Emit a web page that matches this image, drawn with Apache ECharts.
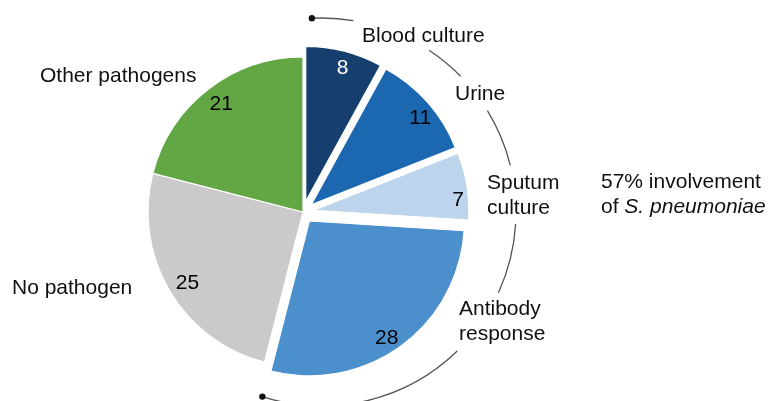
<!DOCTYPE html>
<html>
<head>
<meta charset="utf-8">
<script src="https://cdn.jsdelivr.net/npm/echarts@6/dist/echarts.min.js"></script>
<style>
  html, body { margin: 0; padding: 0; background: #fff; }
  #chart { width: 770px; height: 401px; }
</style>
</head>
<body>
<div id="chart"></div>
<script>
// 数据
const categories = ['Blood culture', 'Urine', 'Sputum\nculture', 'Antibody\nresponse', 'No pathogen', 'Other pathogens'];
const counts = [8, 11, 7, 28, 25, 21];
const pneumoniae = [true, true, true, true, false, false]; // 拉出的扇区
const note = '57% involvement\nof {i|S. pneumoniae}';

// 样式
const colors = ['#173f6e', '#1c68b0', '#bcd5ec', '#4b90cd', '#cbc9ca', '#62a744'];
const valueColors = ['#fff', '#000', '#000', '#000', '#000', '#000'];
const labelNudge = [[2, 2], [4, 6], [6, 12], [-5, 4], [5, 0], [4, 3]]; // 数值标签微调
const FONT = '"Liberation Sans", Arial, sans-serif';
const center = [303, 212];

const pieData = counts.map((v, i) => ({
    name: categories[i],
    value: v,
    selected: pneumoniae[i],
    itemStyle: { color: colors[i] },
    select: { itemStyle: { color: colors[i] } }
}));

const labelData = counts.map((v, i) => ({
    name: categories[i],
    value: v,
    selected: pneumoniae[i],
    label: { color: valueColors[i] }
}));

// 外部名称标签位置 (左, 垂直中心)
const namePos = [[362, 36], [455, 94], [487, 196], [459, 322], [12, 288], [40, 76]];

// 括号弧线段 (角度)
const arcCenter = [322, 212], arcR = 194;
const arcSegs = [[-93, -80.7], [-56.5, -44.4], [-31.5, -13.9], [3.5, 24.6], [45.8, 107.9]];
const rad = d => d * Math.PI / 180;

const graphics = [];
categories.forEach((c, i) => {
    graphics.push({
        type: 'text', x: namePos[i][0], y: namePos[i][1],
        style: { text: c, font: '21px ' + FONT, fill: '#111', align: 'left', verticalAlign: 'middle', lineHeight: 25 }
    });
});
graphics.push({
    type: 'text', x: 601, y: 195,
    style: {
        text: note, font: '21px ' + FONT, fill: '#111', align: 'left', verticalAlign: 'middle', lineHeight: 25,
        rich: { i: { fontStyle: 'italic', font: 'italic 21px ' + FONT, fill: '#111' } }
    }
});
arcSegs.forEach(s => {
    graphics.push({
        type: 'arc',
        shape: { cx: arcCenter[0], cy: arcCenter[1], r: arcR, startAngle: rad(s[0]), endAngle: rad(s[1]), clockwise: true },
        style: { stroke: '#555', lineWidth: 1.3, fill: null }
    });
});
[arcSegs[0][0], arcSegs[arcSegs.length - 1][1]].forEach(a => {
    graphics.push({
        type: 'circle',
        shape: { cx: arcCenter[0] + arcR * Math.cos(rad(a)), cy: arcCenter[1] + arcR * Math.sin(rad(a)), r: 3.2 },
        style: { fill: '#111' }
    });
});

const chart = echarts.init(document.getElementById('chart'));
chart.setOption({
    animation: false,
    graphic: graphics,
    series: [
        {
            type: 'pie',
            center: center,
            radius: [0, 155],
            startAngle: 90,
            selectedMode: 'multiple',
            selectedOffset: 11,
            silent: true,
            label: { show: false },
            labelLine: { show: false },
            itemStyle: { borderColor: '#fff', borderWidth: 1.2 },
            emphasis: { disabled: true },
            data: pieData
        },
        {
            // 数值标签
            type: 'pie',
            center: center,
            radius: [117, 157],
            startAngle: 90,
            selectedMode: 'multiple',
            selectedOffset: 11,
            silent: true,
            avoidLabelOverlap: false,
            itemStyle: { color: 'rgba(0,0,0,0)' },
            select: { itemStyle: { color: 'rgba(0,0,0,0)' } },
            emphasis: { disabled: true },
            label: { show: true, position: 'inside', formatter: '{c}', fontSize: 21, fontFamily: FONT, color: '#000' },
            labelLine: { show: false },
            labelLayout: p => ({ dx: labelNudge[p.dataIndex][0], dy: labelNudge[p.dataIndex][1] }),
            data: labelData
        }
    ]
});
</script>
</body>
</html>
